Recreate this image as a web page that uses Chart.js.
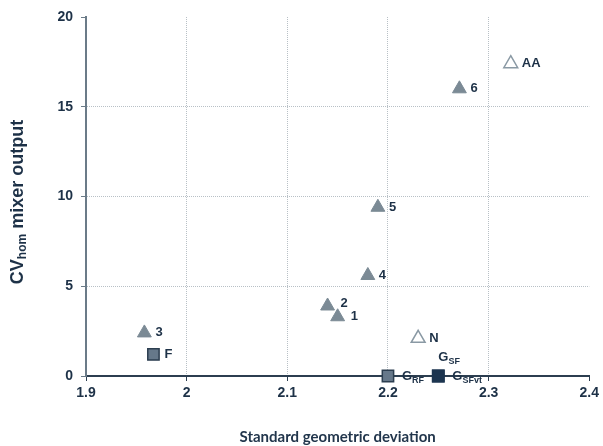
<!DOCTYPE html>
<html>
<head>
<meta charset="utf-8">
<script src="https://cdn.jsdelivr.net/npm/chart.js@4.4.1/dist/chart.umd.min.js"></script>
<style>
    html, body { margin: 0; padding: 0; background: #fff; }
    #wrap { width: 603px; height: 446px; }
</style>
</head>
<body>
<div id="wrap"><canvas id="chart" width="603" height="446"></canvas></div>
<script>
// Point labels use "|" to split main text from subscript
const triLabels = ['1', '2', '3', '4', '5', '6'];
const triX = [2.15, 2.14, 1.958, 2.18, 2.19, 2.271];
const triY = [3.3, 3.9, 2.4, 5.6, 9.4, 16.0];

const openLabels = ['AA', 'N'];
const openX = [2.322, 2.23];
const openY = [17.4, 2.1];

const squareLabels = ['F', 'G|RF'];
const squareX = [1.967, 2.2];
const squareY = [1.2, 0];

const darkLabels = ['G|SF', 'G|SFvt'];
const darkX = [2.25, 2.25];
const darkY = [0, 0];

const xTicks = [1.9, 2, 2.1, 2.2, 2.3, 2.4];
const yTicks = [0, 5, 10, 15, 20];

const TEXT = '#1d3147';
const FONT = 'Liberation Sans';

// label offsets from the marker centre (default: to the right)
const labelOffsets = {
    'G|SF': [0, -19],
    'G|RF': [14, 0],
    'G|SFvt': [14, 0],
    '2': [13, -3],
    '1': [13, 0],
};

const toPoints = (xs, ys) => xs.map((x, i) => ({ x, y: ys[i] }));

const pointLabelPlugin = {
    id: 'pointLabels',
    afterDatasetsDraw(chart) {
        const ctx = chart.ctx;
        ctx.save();
        ctx.fillStyle = TEXT;
        ctx.textBaseline = 'middle';
        ctx.textAlign = 'left';
        chart.data.datasets.forEach((ds, di) => {
            const meta = chart.getDatasetMeta(di);
            meta.data.forEach((el, i) => {
                const text = ds.pointLabels[i];
                const [dx, dy] = labelOffsets[text] || [11, 0];
                const [main, sub] = text.split('|');
                let x = el.x + dx;
                const y = el.y + dy;
                ctx.font = `bold 13px ${FONT}`;
                ctx.fillText(main, x, y);
                x += ctx.measureText(main).width;
                if (sub) {
                    ctx.font = `bold 9px ${FONT}`;
                    ctx.fillText(sub, x, y + 5);
                }
            });
        });
        ctx.restore();
    }
};

// Y title with subscript, drawn rotated
const yTitlePlugin = {
    id: 'yTitle',
    afterDraw(chart) {
        const ctx = chart.ctx;
        const parts = [
            ['CV', `bold 18px ${FONT}`, 0],
            ['hom', `bold 12px ${FONT}`, 5],
            [' mixer output', `bold 18px ${FONT}`, 0],
        ];
        let total = 0;
        parts.forEach(p => { ctx.font = p[1]; total += ctx.measureText(p[0]).width; });
        ctx.save();
        ctx.translate(18, 202);
        ctx.rotate(-Math.PI / 2);
        ctx.fillStyle = TEXT;
        ctx.textBaseline = 'middle';
        ctx.textAlign = 'left';
        let x = -total / 2;
        parts.forEach(p => {
            ctx.font = p[1];
            ctx.fillText(p[0], x, p[2]);
            x += ctx.measureText(p[0]).width;
        });
        ctx.restore();
    }
};

function draw() {
    new Chart(document.getElementById('chart'), {
        type: 'scatter',
        data: {
            datasets: [
                {
                    data: toPoints(triX, triY),
                    pointLabels: triLabels,
                    pointStyle: 'triangle',
                    pointRadius: 8,
                    backgroundColor: '#7b8a95',
                    borderColor: '#7b8a95',
                    borderWidth: 1,
                    clip: false,
                },
                {
                    data: toPoints(openX, openY),
                    pointLabels: openLabels,
                    pointStyle: 'triangle',
                    pointRadius: 8,
                    backgroundColor: '#ffffff',
                    borderColor: '#8a99a4',
                    borderWidth: 1.5,
                    clip: false,
                },
                {
                    data: toPoints(squareX, squareY),
                    pointLabels: squareLabels,
                    pointStyle: 'rect',
                    pointRadius: 8,
                    backgroundColor: '#66788a',
                    borderColor: '#2c3e50',
                    borderWidth: 1.5,
                    clip: false,
                },
                {
                    data: toPoints(darkX, darkY),
                    pointLabels: darkLabels,
                    pointStyle: 'rect',
                    pointRadius: 8,
                    backgroundColor: '#1c3550',
                    borderColor: '#1c3550',
                    borderWidth: 1.5,
                    clip: false,
                },
            ]
        },
        options: {
            responsive: false,
            animation: false,
            layout: { autoPadding: false, padding: { top: 17, right: 11, left: 0, bottom: 0 } },
            plugins: {
                legend: { display: false },
                tooltip: { enabled: false },
            },
            scales: {
                x: {
                    type: 'linear',
                    min: 1.9,
                    max: 2.4,
                    afterBuildTicks: s => { s.ticks = xTicks.map(v => ({ value: v })); },
                    afterFit: s => { s.height = 70; },
                    grid: {
                        color: ctx => (ctx.tick && (ctx.tick.value === 1.9 || ctx.tick.value === 2.4)) ? 'rgba(0,0,0,0)' : '#b8c0c6',
                        lineWidth: 1,
                        tickLength: 5,
                        tickColor: '#2c3e50',
                        tickBorderDash: [],
                    },
                    border: { display: true, color: '#2c3e50', width: 2, dash: [1, 1] },
                    ticks: {
                        color: TEXT,
                        font: { family: FONT, size: 14, weight: 'bold' },
                        padding: 4,
                        maxRotation: 0,
                        callback: v => String(v),
                    },
                    title: {
                        display: true,
                        text: 'Standard geometric deviation',
                        color: '#22364c',
                        font: { family: 'Lato', size: 15, weight: 'bold' },
                        padding: { top: 14, bottom: 0 },
                    },
                },
                y: {
                    type: 'linear',
                    min: 0,
                    max: 20,
                    afterBuildTicks: s => { s.ticks = yTicks.map(v => ({ value: v })); },
                    afterFit: s => { s.width = 86; },
                    grid: {
                        color: ctx => (ctx.tick && (ctx.tick.value === 0 || ctx.tick.value === 20)) ? 'rgba(0,0,0,0)' : '#b8c0c6',
                        lineWidth: 1,
                        tickLength: 5,
                        tickColor: '#6b7b88',
                        tickBorderDash: [],
                    },
                    border: { display: true, color: '#6b7b88', width: 2, dash: [1, 1] },
                    ticks: {
                        color: TEXT,
                        font: { family: FONT, size: 14, weight: 'bold' },
                        padding: 8,
                    },
                },
            },
        },
        plugins: [pointLabelPlugin, yTitlePlugin],
    });
}

Promise.all([
    document.fonts.load(`bold 14px "${FONT}"`),
    document.fonts.load('bold 15px Lato'),
]).then(draw, draw);
</script>
</body>
</html>
